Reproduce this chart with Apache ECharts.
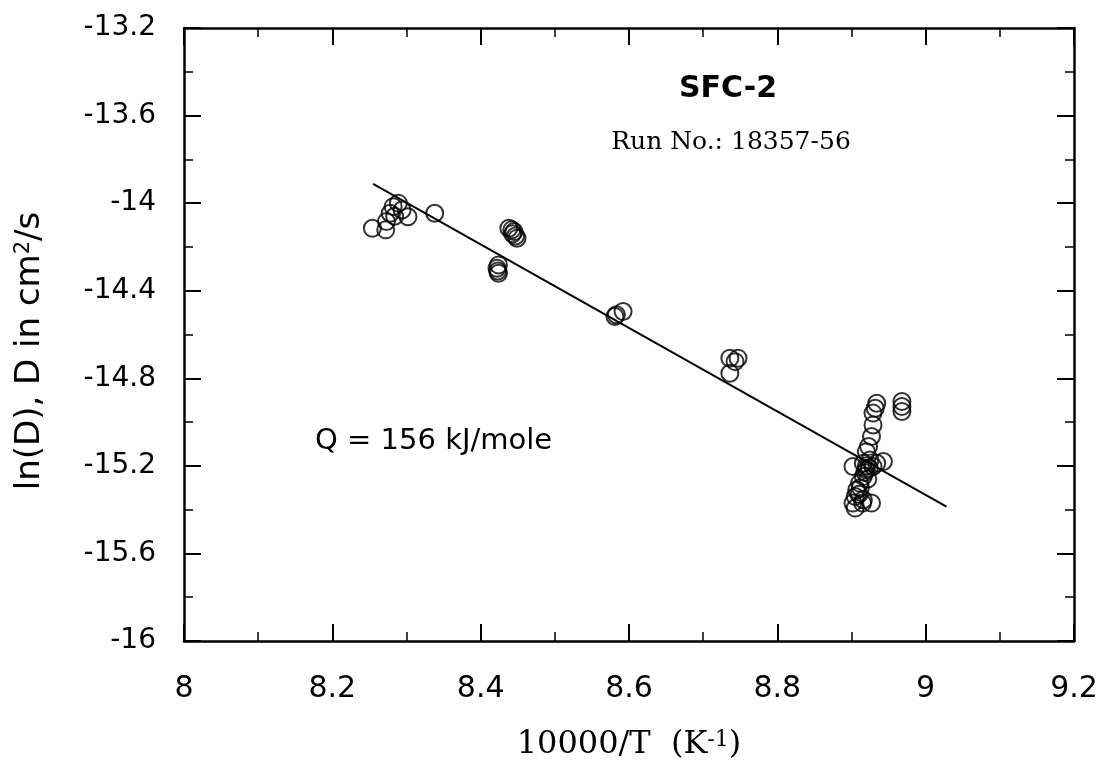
<!DOCTYPE html>
<html>
<head>
<meta charset="utf-8">
<script src="https://cdn.jsdelivr.net/npm/echarts@6/dist/echarts.min.js"></script>
<style>
html,body{margin:0;padding:0;background:#fff;}
#c{width:1108px;height:767px;}
</style>
</head>
<body>
<div id="c"></div>
<script>
// Measured diffusion points: x = 10000/T, y = ln(D)
const xValues = [
  8.254, 8.272, 8.273, 8.278, 8.282, 8.289, 8.294, 8.302, 8.284, 8.338,
  8.438, 8.442, 8.445, 8.447, 8.449, 8.443,
  8.424, 8.424, 8.422, 8.423,
  8.583, 8.592, 8.581,
  8.736, 8.747, 8.736, 8.743,
  8.934, 8.932, 8.929, 8.929, 8.927, 8.923, 8.920,
  8.968, 8.968, 8.968,
  8.902, 8.916, 8.925, 8.934, 8.943, 8.920, 8.916, 8.911, 8.907, 8.905, 8.902, 8.905, 8.916, 8.927, 8.929,
  8.918, 8.922, 8.912, 8.924, 8.910, 8.915, 8.920,
  8.970, 9.026, 8.952, 8.970
];
const yValues = [
  -14.115, -14.122, -14.084, -14.046, -14.016, -14.000, -14.031, -14.062, -14.060, -14.046,
  -14.115, -14.122, -14.130, -14.150, -14.160, -14.140,
  -14.282, -14.320, -14.297, -14.310,
  -14.510, -14.495, -14.518,
  -14.708, -14.708, -14.777, -14.724,
  -14.914, -14.937, -14.959, -15.013, -15.066, -15.112, -15.135,
  -14.906, -14.929, -14.952,
  -15.203, -15.188, -15.173, -15.188, -15.180, -15.218, -15.249, -15.279, -15.310, -15.340, -15.370, -15.393, -15.355, -15.370, -15.203,
  -15.230, -15.260, -15.300, -15.210, -15.330, -15.370, -15.200
];
// Arrhenius fit line endpoints
const fitX = [8.255, 9.028];
const fitY = [-13.912, -15.386];

const xTicks = ['8', '8.2', '8.4', '8.6', '8.8', '9', '9.2'];
const yTicks = ['-13.2', '-13.6', '-14', '-14.4', '-14.8', '-15.2', '-15.6', '-16'];

const titleText = 'SFC-2';
const runText = 'Run No.: 18357-56';
const qText = 'Q = 156 kJ/mole';

const points = xValues.map((x, i) => [x, yValues[i]]);
const fitLine = fitX.map((x, i) => [x, fitY[i]]);

const chart = echarts.init(document.getElementById('c'), null, {renderer: 'canvas'});

const axisLineStyle = {color: '#000', width: 2.5};
const tickCommon = {show: true, inside: true, length: 17, lineStyle: {color: '#000', width: 2}};
const minorCommon = {show: true, splitNumber: 2, length: 9, lineStyle: {color: '#000', width: 1.5}};

chart.setOption({
  backgroundColor: '#fff',
  animation: false,
  grid: {left: 184, right: 34, top: 28, bottom: 126, containLabel: false, outerBoundsMode: 'none'},
  xAxis: [{
    type: 'value', min: 8, max: 9.2, interval: 0.2, position: 'bottom',
    axisLine: {show: true, onZero: false, lineStyle: axisLineStyle},
    axisTick: tickCommon, minorTick: minorCommon,
    splitLine: {show: false},
    axisLabel: {
      margin: 33, color: '#000', fontFamily: 'DejaVu Sans', fontSize: 30,
      formatter: (v) => { const i = Math.round((v - 8) / 0.2); return xTicks[i] !== undefined ? xTicks[i] : ''; }
    },
    name: '{m|10000/T  (K}{s|-1}{m|)}',
    nameLocation: 'middle', nameGap: 88,
    nameTextStyle: {
      rich: {
        m: {fontFamily: 'DejaVu Serif', fontSize: 32, color: '#000'},
        s: {fontFamily: 'DejaVu Serif', fontSize: 22, color: '#000', verticalAlign: 'top'}
      }
    }
  }, {
    type: 'value', min: 8, max: 9.2, interval: 0.2, position: 'top',
    axisLine: {show: true, onZero: false, lineStyle: axisLineStyle},
    axisTick: tickCommon, minorTick: minorCommon,
    splitLine: {show: false}, axisLabel: {show: false}
  }],
  yAxis: [{
    type: 'value', min: -16, max: -13.2, interval: 0.4, position: 'left',
    axisLine: {show: true, onZero: false, lineStyle: axisLineStyle},
    axisTick: tickCommon, minorTick: minorCommon,
    splitLine: {show: false},
    axisLabel: {
      margin: 28, color: '#000', fontFamily: 'DejaVu Sans', fontSize: 28,
      formatter: (v) => { const i = Math.round((-13.2 - v) / 0.4); return yTicks[i] !== undefined ? yTicks[i] : ''; }
    }
  }, {
    type: 'value', min: -16, max: -13.2, interval: 0.4, position: 'right',
    axisLine: {show: true, onZero: false, lineStyle: axisLineStyle},
    axisTick: tickCommon, minorTick: minorCommon,
    splitLine: {show: false}, axisLabel: {show: false}
  }],
  series: [{
    type: 'line', data: fitLine, xAxisIndex: 0, yAxisIndex: 0,
    showSymbol: false, symbol: 'none',
    lineStyle: {color: '#000', width: 2}, z: 2, silent: true
  }, {
    type: 'scatter', data: points, xAxisIndex: 0, yAxisIndex: 0,
    symbol: 'circle', symbolSize: 17,
    itemStyle: {color: 'rgba(0,0,0,0)', borderColor: '#000', borderWidth: 2},
    z: 3, silent: true
  }],
  graphic: [
    {type: 'text', x: 30, y: 351, rotation: Math.PI / 2,
      style: {
        text: '{m|ln(D), D in cm}{s|2}{m|/s}',
        align: 'center', verticalAlign: 'middle',
        rich: {
          m: {fontFamily: 'DejaVu Sans', fontSize: 34, fill: '#000'},
          s: {fontFamily: 'DejaVu Sans', fontSize: 21, fill: '#000', verticalAlign: 'top'}
        }
      }},
    {type: 'text', x: 728, y: 89, style: {text: titleText, fontFamily: 'DejaVu Sans', fontWeight: 'bold', fontSize: 30, fill: '#000', align: 'center', verticalAlign: 'middle'}},
    {type: 'text', x: 731, y: 142, style: {text: runText, fontFamily: 'DejaVu Serif', fontSize: 25, fill: '#000', align: 'center', verticalAlign: 'middle'}},
    {type: 'text', x: 315, y: 441, style: {text: qText, fontFamily: 'DejaVu Sans', fontSize: 29, fill: '#000', align: 'left', verticalAlign: 'middle'}}
  ]
});
</script>
</body>
</html>
